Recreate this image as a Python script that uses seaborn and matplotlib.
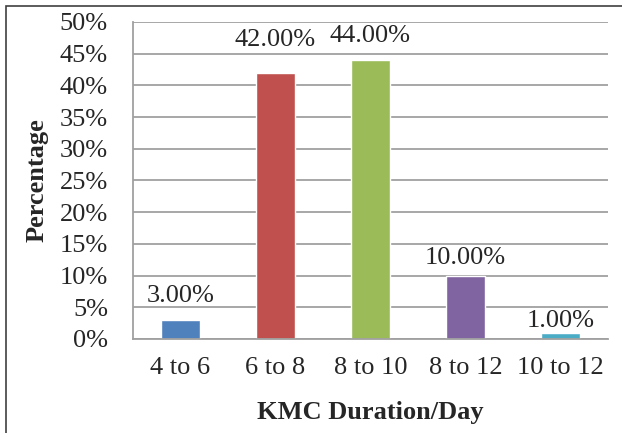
import matplotlib
matplotlib.use("Agg")
import matplotlib.pyplot as plt
import seaborn as sns
import pandas as pd
from matplotlib.patches import Rectangle

categories = ["4 to 6", "6 to 8", "8 to 10", "8 to 12", "10 to 12"]
values = [3.0, 42.0, 44.0, 10.0, 1.0]
colors = ["#4F81BD", "#C0504D", "#9BBB59", "#8064A2", "#4BACC6"]
yticks = [0, 5, 10, 15, 20, 25, 30, 35, 40, 45, 50]
# gap (points) between bar top and label baseline, as placed in the original
label_gap = [13, 19.5, 13, 8, 4.3]

sns.set_style("white")
plt.rcParams["font.family"] = ["Liberation Serif", "DejaVu Serif"]

df = pd.DataFrame({"cat": categories, "val": values})

fig = plt.figure(figsize=(6.22, 4.33), dpi=100)
ax = fig.add_axes([0.2138, 0.2171, 0.7637, 0.7321])

sns.barplot(data=df, x="cat", y="val", hue="cat", palette=colors,
            width=0.41, legend=False, ax=ax, saturation=1)

fs = 19
grid_c = "#A0A0A0"
ax.set_ylim(0, 50)
ax.set_xlim(-0.5, len(categories) - 0.5)
ax.set_yticks(yticks)
ax.set_yticklabels([f"{t}%" for t in yticks], fontsize=fs)
ax.yaxis.grid(True, color=grid_c, linewidth=1.3)
ax.set_axisbelow(True)

# x ticks between categories (Excel style)
ax.set_xticks(range(len(categories)))
ax.set_xticklabels(categories, fontsize=fs)
ax.tick_params(axis="x", length=0, pad=13)
ax.set_xticks([i - 0.5 for i in range(len(categories) + 1)], minor=True)
ax.tick_params(axis="x", which="minor", length=7, width=1.3, color=grid_c, direction="out")
ax.tick_params(axis="y", length=7, width=1.3, color=grid_c, direction="out", pad=11)

for side in ["top", "right"]:
    ax.spines[side].set_visible(False)
for side in ["left", "bottom"]:
    ax.spines[side].set_color(grid_c)
    ax.spines[side].set_linewidth(1.3)

for i, v in enumerate(values):
    ax.annotate(f"{v:.2f}%", (i, v), xytext=(0, label_gap[i]), textcoords="offset points",
                ha="center", va="baseline", fontsize=fs)

ax.set_xlabel("KMC Duration/Day", fontsize=fs, fontweight="bold", labelpad=16)
ax.set_ylabel("Percentage", fontsize=fs, fontweight="bold", labelpad=8)

fig.patches.append(Rectangle((6 / 622, -0.05), 1.2, 1 - 6 / 433 + 0.05,
                             transform=fig.transFigure, fill=False,
                             edgecolor="#404040", linewidth=1.2))

fig.savefig("out.png", dpi=100)
